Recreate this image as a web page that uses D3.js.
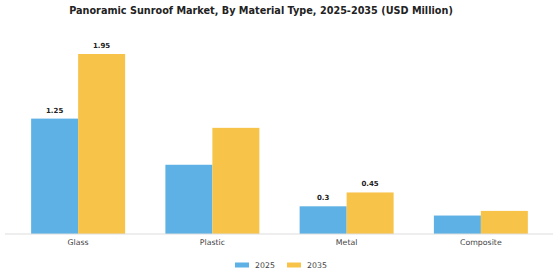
<!DOCTYPE html>
<html>
<head>
<meta charset="utf-8">
<script src="https://cdn.jsdelivr.net/npm/d3@7"></script>
<style>
  body { margin: 0; background: #fff; }
  svg { display: block; font-family: "DejaVu Sans", sans-serif; }
</style>
</head>
<body>
<div id="chart"></div>
<script>
  const categories = ["Glass", "Plastic", "Metal", "Composite"];
  const years = ["2025", "2035"];
  const values2025 = [1.25, 0.75, 0.3, 0.2];
  const values2035 = [1.95, 1.15, 0.45, 0.25];
  // only some bars carry a value label in the original
  const labelled2025 = [true, false, true, false];
  const labelled2035 = [true, false, true, false];

  const width = 560;
  const height = 280;
  const baseline = 234;
  const colors = {"2025": "#5DB1E4", "2035": "#F8C349"};

  const svg = d3.select("#chart").append("svg")
    .attr("width", width)
    .attr("height", height);

  svg.append("text")
    .attr("x", 261)
    .attr("y", 14)
    .attr("text-anchor", "middle")
    .attr("font-size", 9.7)
    .attr("font-weight", "bold")
    .attr("fill", "#222")
    .text("Panoramic Sunroof Market, By Material Type, 2025-2035 (USD Million)");

  const x0 = d3.scaleBand()
    .domain(categories)
    .range([11, 548])
    .paddingInner(0.3)
    .paddingOuter(0.15);

  const x1 = d3.scaleBand()
    .domain(years)
    .range([0, x0.bandwidth()]);

  const y = d3.scaleLinear()
    .domain([0, 1.95])
    .range([baseline, 54]);

  const rows = categories.map(function (c, i) {
    return {
      category: c,
      bars: [
        {year: "2025", value: values2025[i], label: labelled2025[i]},
        {year: "2035", value: values2035[i], label: labelled2035[i]}
      ]
    };
  });

  const groups = svg.append("g").selectAll("g")
    .data(rows)
    .join("g")
    .attr("transform", function (d) { return "translate(" + x0(d.category) + ",0)"; });

  groups.selectAll("rect")
    .data(function (d) { return d.bars; })
    .join("rect")
    .attr("x", function (d) { return x1(d.year); })
    .attr("width", x1.bandwidth())
    .attr("y", function (d) { return y(d.value); })
    .attr("height", function (d) { return baseline - y(d.value); })
    .attr("fill", function (d) { return colors[d.year]; });

  groups.selectAll("text.value")
    .data(function (d) { return d.bars.filter(function (b) { return b.label; }); })
    .join("text")
    .attr("class", "value")
    .attr("x", function (d) { return x1(d.year) + x1.bandwidth() / 2; })
    .attr("y", function (d) { return y(d.value) - 6; })
    .attr("text-anchor", "middle")
    .attr("font-size", 7)
    .attr("font-weight", "bold")
    .attr("fill", "#222")
    .text(function (d) { return d.value; });

  const axis = svg.append("g")
    .attr("transform", "translate(0," + baseline + ")")
    .call(d3.axisBottom(x0).tickSize(0).tickPadding(5));
  axis.select(".domain").remove();
  axis.insert("line", ":first-child")
    .attr("x1", 5).attr("x2", 553)
    .attr("stroke", "#ddd");
  axis.selectAll("text")
    .attr("font-family", "DejaVu Sans, sans-serif")
    .attr("font-size", 7.8)
    .attr("fill", "#444");

  const legend = svg.append("g")
    .attr("transform", "translate(235,265)");
  const legendItems = legend.selectAll("g")
    .data(years)
    .join("g")
    .attr("transform", function (d, i) { return "translate(" + (i * 52) + ",0)"; });
  legendItems.append("rect")
    .attr("x", 0).attr("y", -2.5)
    .attr("width", 14).attr("height", 5)
    .attr("fill", function (d) { return colors[d]; });
  legendItems.append("text")
    .attr("x", 20).attr("y", 3)
    .attr("font-size", 7.8)
    .attr("fill", "#444")
    .text(function (d) { return d; });
</script>
</body>
</html>
